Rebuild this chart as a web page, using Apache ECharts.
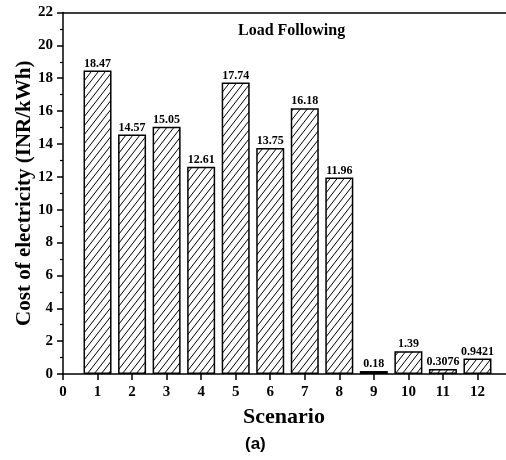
<!DOCTYPE html>
<html>
<head>
<meta charset="utf-8">
<script src="https://cdn.jsdelivr.net/npm/echarts@6/dist/echarts.min.js"></script>
<style>html,body{margin:0;padding:0;background:#fff;}#c{width:506px;height:460px;}</style>
</head>
<body>
<div id="c"></div>
<script>
var scenarios = [1, 2, 3, 4, 5, 6, 7, 8, 9, 10, 11, 12];
var costs = [18.47, 14.57, 15.05, 12.61, 17.74, 13.75, 16.18, 11.96, 0.18, 1.39, 0.3076, 0.9421];
var costLabels = ['18.47', '14.57', '15.05', '12.61', '17.74', '13.75', '16.18', '11.96', '0.18', '1.39', '0.3076', '0.9421'];
var yTicks = [0, 2, 4, 6, 8, 10, 12, 14, 16, 18, 20, 22];
var xTicks = [0, 1, 2, 3, 4, 5, 6, 7, 8, 9, 10, 11, 12];

var serif = '"Liberation Serif", "Times New Roman", serif';

// hatch pattern
var pw = 7, ph = 9;
var pc = document.createElement('canvas');
pc.width = pw; pc.height = ph;
var ctx = pc.getContext('2d');
ctx.fillStyle = '#fff';
ctx.fillRect(0, 0, pw, ph);
ctx.strokeStyle = '#000';
ctx.lineWidth = 1;
for (var k = -1; k <= 1; k++) {
  ctx.beginPath();
  ctx.moveTo(k * pw, ph);
  ctx.lineTo(pw + k * pw, 0);
  ctx.stroke();
}

var chart = echarts.init(document.getElementById('c'), null, {renderer: 'canvas'});
var data = scenarios.map(function (s, i) { return [s, costs[i]]; });

chart.setOption({
  animation: false,
  backgroundColor: '#fff',
  grid: {left: 63, right: -6, top: 12.5, bottom: 86, containLabel: false, outerBoundsMode: 'none'},
  title: {
    text: 'Load Following', left: 233, top: 18,
    textStyle: {fontFamily: serif, fontWeight: 'bold', fontSize: 16, color: '#000'}
  },
  xAxis: [{
    type: 'value', min: 0, max: 13, interval: 1,
    axisLine: {lineStyle: {color: '#000', width: 1.5}},
    axisTick: {show: true, length: 6, inside: false, lineStyle: {color: '#000', width: 1.5}},
    axisLabel: {
      margin: 11, fontFamily: serif, fontWeight: 'bold', fontSize: 15, color: '#000',
      formatter: function (v) { return xTicks.indexOf(v) >= 0 ? String(v) : ''; }
    },
    splitLine: {show: false}
  }, {
    type: 'value', position: 'top', min: 0, max: 13, interval: 1,
    axisLine: {show: true, onZero: false, lineStyle: {color: '#000', width: 1.5}},
    axisTick: {show: false}, axisLabel: {show: false}, splitLine: {show: false}
  }],
  yAxis: {
    type: 'value', min: 0, max: 22, interval: 2,
    name: 'Cost of electricity (INR/kWh)', nameLocation: 'middle', nameGap: 28, nameMoveOverlap: false,
    nameTextStyle: {fontFamily: serif, fontWeight: 'bold', fontSize: 21, color: '#000'},
    axisLine: {show: true, lineStyle: {color: '#000', width: 1.5}},
    axisTick: {show: true, length: 6, lineStyle: {color: '#000', width: 1.5}},
    minorTick: {show: true, splitNumber: 2, length: 3, lineStyle: {color: '#000', width: 1.2}},
    axisLabel: {
      margin: 10, fontFamily: serif, fontWeight: 'bold', fontSize: 15, color: '#000',
      formatter: function (v) { return yTicks.indexOf(v) >= 0 ? String(v) : ''; }
    },
    splitLine: {show: false}
  },
  graphic: [
    {type: 'text', left: 243, top: 406, style: {text: 'Scenario', font: 'bold 22px ' + serif, fill: '#000'}},
    {type: 'text', left: 245, top: 436, style: {text: '(a)', font: 'bold 17px "Liberation Sans", Arial, sans-serif', fill: '#000'}}
  ],
  series: [{
    type: 'bar', xAxisIndex: 0, data: data, barWidth: 28,
    itemStyle: {color: {image: pc, repeat: 'repeat'}, borderColor: '#000', borderWidth: 1.5},
    label: {
      show: true, position: 'top', distance: 1,
      fontFamily: serif, fontWeight: 'bold', fontSize: 12, color: '#000',
      formatter: function (p) { return costLabels[p.dataIndex]; }
    }
  }]
});
</script>
</body>
</html>
